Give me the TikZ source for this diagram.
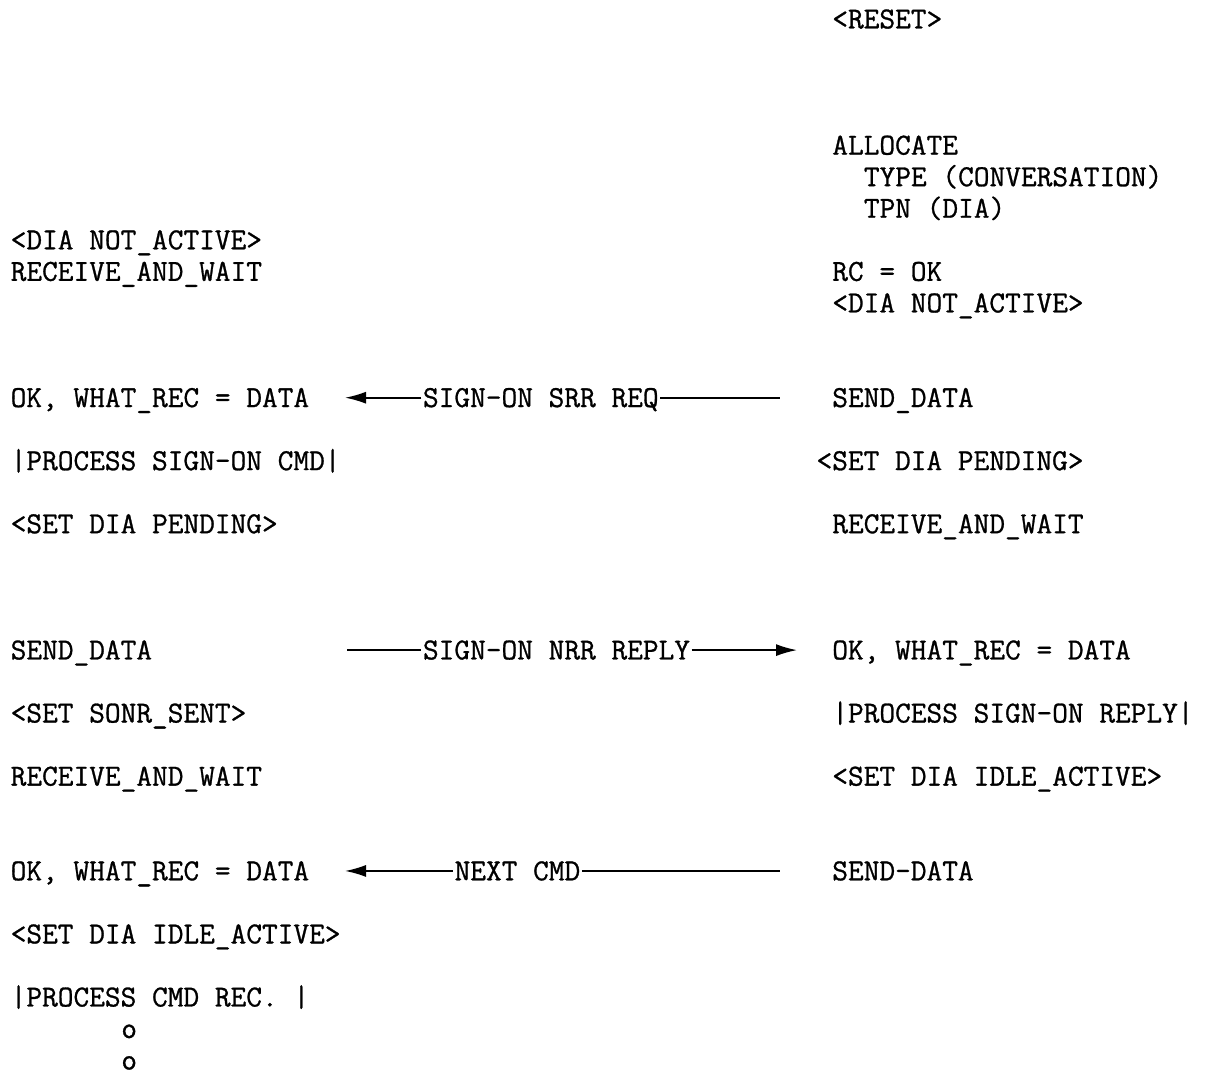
\documentclass[tikz,border=0pt]{standalone}
\usepackage{fontspec}
\setmonofont{Latin Modern Mono}[FakeBold=0.9]
\usetikzlibrary{arrows.meta}
\newcommand\txtline[4]{\node[tline] (#1) at ({10.5+#2*15.8},{28.4+#3*31.55}) {#4};}
\newcommand\arrlabel[4]{\node[alabel] (#1) at ({10.5+#2*15.8},{28.4+#3*31.55}) {#4};}
\begin{document}
\begin{tikzpicture}[x=1pt,y=-1pt,
  tline/.style={anchor=base west,inner sep=0pt,font=\ttfamily\fontsize{30.5}{31.55}\selectfont\frenchspacing},
  alabel/.style={anchor=base west,inner xsep=1.5pt,inner ysep=0pt,text height=18.6pt,text depth=0pt,font=\ttfamily\fontsize{30.5}{31.55}\selectfont\frenchspacing},
  ln/.style={line width=1.6pt,draw=black},
  arr/.style={ln,-{Latex[length=21pt,width=12pt]}}]
\useasboundingbox (0,0) rectangle (1207,1074);
% right column, top
\txtline{reset}{52}{0}{<RESET>}
\txtline{alloc}{52}{4}{ALLOCATE}
\txtline{type}{54}{5}{TYPE (CONVERSATION)}
\txtline{tpn}{54}{6}{TPN (DIA)}
\txtline{ldna}{0}{7}{<DIA NOT\_ACTIVE>}
\txtline{lrw1}{0}{8}{RECEIVE\_AND\_WAIT}
\txtline{rcok}{52}{8}{RC = OK}
\txtline{rdna}{52}{9}{<DIA NOT\_ACTIVE>}
% exchange 1
\txtline{lok1}{0}{12}{OK, WHAT\_REC = DATA}
\arrlabel{srr}{26}{12}{SIGN-ON SRR REQ}
\txtline{rsd1}{52}{12}{SEND\_DATA}
\coordinate (t1) at (345,{28.4+12*31.55-9.3});
\coordinate (e1) at (780,{28.4+12*31.55-9.3});
\draw[arr] (srr.west) -- (t1);
\draw[ln] (srr.east) -- (e1);
\txtline{lproc1}{0}{14}{|PROCESS SIGN-ON CMD|}
\txtline{rpend}{51}{14}{<SET DIA PENDING>}
\txtline{lpend}{0}{16}{<SET DIA PENDING>}
\txtline{rrw}{52}{16}{RECEIVE\_AND\_WAIT}
% exchange 2
\txtline{lsd}{0}{20}{SEND\_DATA}
\arrlabel{nrr}{26}{20}{SIGN-ON NRR REPLY}
\txtline{rok}{52}{20}{OK, WHAT\_REC = DATA}
\coordinate (s2) at (347,{28.4+20*31.55-9.3});
\coordinate (t2) at (797,{28.4+20*31.55-9.3});
\draw[ln] (s2) -- (nrr.west);
\draw[arr] (nrr.east) -- (t2);
\txtline{lsonr}{0}{22}{<SET SONR\_SENT>}
\txtline{rproc}{52}{22}{|PROCESS SIGN-ON REPLY|}
\txtline{lrw2}{0}{24}{RECEIVE\_AND\_WAIT}
\txtline{ridle}{52}{24}{<SET DIA IDLE\_ACTIVE>}
% exchange 3
\txtline{lok2}{0}{27}{OK, WHAT\_REC = DATA}
\arrlabel{nxt}{28}{27}{NEXT CMD}
\txtline{rsd2}{52}{27}{SEND-DATA}
\coordinate (t3) at (345,{28.4+27*31.55-9.3});
\coordinate (e3) at (780,{28.4+27*31.55-9.3});
\draw[arr] (nxt.west) -- (t3);
\draw[ln] (nxt.east) -- (e3);
\txtline{lidle}{0}{29}{<SET DIA IDLE\_ACTIVE>}
\txtline{lproc2}{0}{31}{|PROCESS CMD REC. |}
\txtline{dot1}{7}{32}{o}
\txtline{dot2}{7}{33}{o}
\end{tikzpicture}
\end{document}
